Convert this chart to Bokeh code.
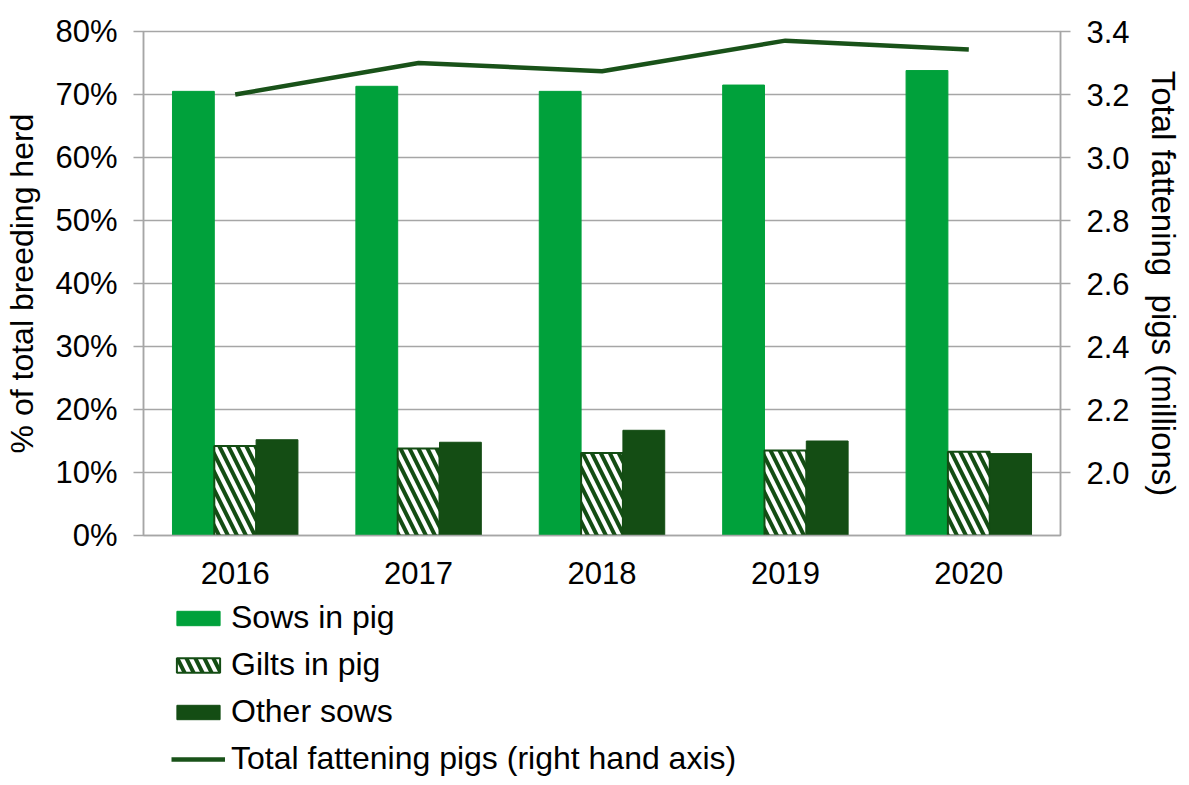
from bokeh.plotting import figure
from bokeh.layouts import column
from bokeh.models import (ColumnDataSource, Range1d, LinearAxis, FixedTicker,
                          NumeralTickFormatter, Legend, LegendItem)
from bokeh.transform import dodge
from bokeh.embed import file_html
from bokeh.resources import INLINE

years = ["2016", "2017", "2018", "2019", "2020"]
sows_in_pig = [70.5, 71.3, 70.5, 71.5, 73.8]      # % of total breeding herd
gilts_in_pig = [14.2, 13.8, 13.1, 13.5, 13.3]     # % of total breeding herd
other_sows = [15.2, 14.8, 16.7, 15.0, 13.0]       # % of total breeding herd
fattening_pigs = [3.20, 3.30, 3.274, 3.371, 3.343]  # millions (right axis)

left_ticks = [0, 10, 20, 30, 40, 50, 60, 70, 80]
right_ticks = [2.0, 2.2, 2.4, 2.6, 2.8, 3.0, 3.2, 3.4]
series_names = ["Sows in pig", "Gilts in pig", "Other sows",
                "Total fattening pigs (right hand axis)"]

SOWS = "#00a13b"
OTHER = "#144d14"
LINE = "#195219"
GRID = "#a6a6a6"
FONT = "Liberation Sans"

src = ColumnDataSource(dict(
    year=years,
    sows=[v / 100 for v in sows_in_pig],
    gilts=[v / 100 for v in gilts_in_pig],
    other=[v / 100 for v in other_sows],
    fat=fattening_pigs,
))

bw = 0.228
sows_style = dict(fill_color=SOWS, line_color=SOWS)
gilts_style = dict(fill_color="white", line_color=OTHER, line_width=2,
                   hatch_pattern="\\", hatch_color=OTHER, hatch_weight=4,
                   hatch_scale=18)
other_style = dict(fill_color=OTHER, line_color=OTHER)
line_style = dict(line_color=LINE, line_width=4.5)


def add_series(fig, visible=True):
    r1 = fig.vbar(x=dodge("year", -bw, range=fig.x_range), top="sows",
                  width=bw, source=src, visible=visible, **sows_style)
    r2 = fig.vbar(x=dodge("year", 0, range=fig.x_range), top="gilts",
                  width=bw, source=src, visible=visible, **gilts_style)
    r3 = fig.vbar(x=dodge("year", bw, range=fig.x_range), top="other",
                  width=bw, source=src, visible=visible, **other_style)
    r4 = fig.line(x="year", y="fat", source=src, y_range_name="right",
                  visible=visible, **line_style)
    return [r1, r2, r3, r4]


# ---------------- main chart ----------------
p = figure(x_range=years, y_range=Range1d(0, 0.8),
           frame_width=917, frame_height=504,
           output_backend="svg", toolbar_location=None,
           min_border_left=143, min_border_right=121, min_border_top=31,
           min_border_bottom=56)
p.extra_y_ranges = {"right": Range1d(1.8, 3.4)}
add_series(p)

ya = p.yaxis[0]
ya.ticker = FixedTicker(ticks=[t / 100 for t in left_ticks])
ya.formatter = NumeralTickFormatter(format="0%")
ya.axis_label = "% of total breeding herd"

ra = LinearAxis(y_range_name="right", ticker=FixedTicker(ticks=right_ticks),
                formatter=NumeralTickFormatter(format="0.0"),
                axis_label="Total fattening \u00a0pigs (millions)")
p.add_layout(ra, "right")

for ax in (ya, ra):
    ax.major_label_text_font = FONT
    ax.major_label_text_font_size = "31px"
    ax.major_label_text_color = "black"
    ax.axis_label_text_font = FONT
    ax.axis_label_text_font_size = "33px"
    ax.axis_label_text_font_style = "normal"
    ax.axis_label_text_color = "black"
    ax.axis_line_color = GRID
    ax.axis_line_width = 1.5
    ax.major_tick_line_color = GRID
    ax.major_tick_line_width = 1.5
    ax.major_tick_out = 10
    ax.major_tick_in = 0
    ax.minor_tick_line_color = None
    ax.major_label_standoff = 16
ya.axis_label_text_font_size = "32px"
ya.axis_label_standoff = 12
ra.axis_label_standoff = 12

xa = p.xaxis[0]
xa.major_label_text_font = FONT
xa.major_label_text_font_size = "31px"
xa.major_label_text_color = "black"
xa.axis_line_color = GRID
xa.axis_line_width = 1.5
xa.major_tick_line_color = None
xa.minor_tick_line_color = None
xa.major_label_standoff = 20

p.xgrid.grid_line_color = None
p.ygrid.grid_line_color = GRID
p.ygrid.grid_line_width = 1.5
p.outline_line_color = GRID
p.outline_line_width = 1.5

# ---------------- legend strip below ----------------
lg = figure(x_range=years, y_range=Range1d(10, 11), width=1181, height=186,
            output_backend="svg", toolbar_location=None,
            min_border=0, x_axis_location=None, y_axis_location=None)
lg.extra_y_ranges = {"right": Range1d(10, 11)}
lg.grid.grid_line_color = None
lg.outline_line_color = None
lrs = add_series(lg, visible=False)

legend = Legend(items=[LegendItem(label=n, renderers=[r])
                       for n, r in zip(series_names, lrs)],
                location=(28, 0), orientation="vertical")
legend.label_text_font = FONT
legend.label_text_font_size = "32px"
legend.label_text_color = "black"
legend.glyph_width = 54
legend.glyph_height = 18
legend.label_standoff = 6
legend.spacing = 10
legend.padding = 0
legend.margin = 0
legend.border_line_color = None
legend.background_fill_color = None
lg.add_layout(legend, "center")

layout = column(p, lg, spacing=0)
open("out.html", "w").write(file_html(layout, INLINE))
